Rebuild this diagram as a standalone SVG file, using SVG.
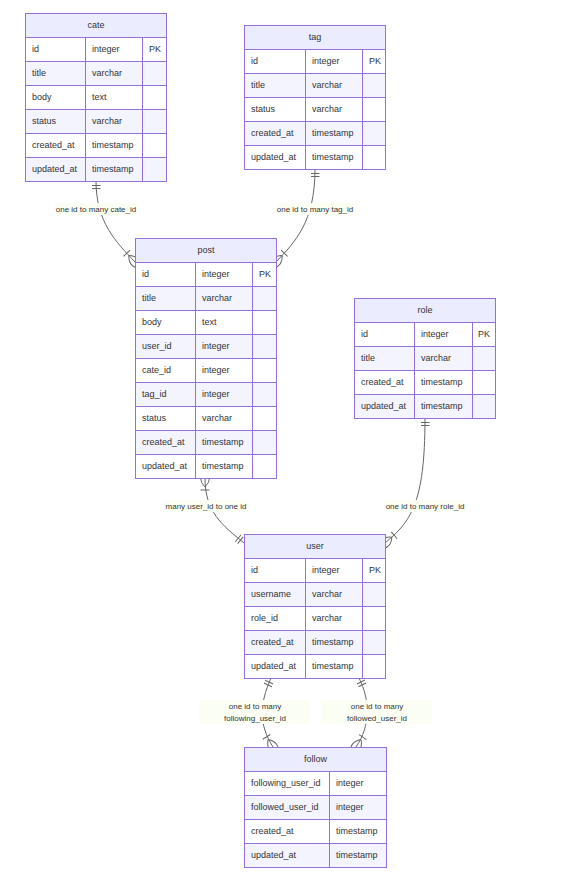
<svg xmlns="http://www.w3.org/2000/svg" width="581" height="882" viewBox="0 0 581 882">
<style>
.hdr{fill:#ececff;stroke:#9370db;stroke-width:1}
.odd{fill:#ffffff;stroke:#9370db;stroke-width:1}
.even{fill:#f4f4ff;stroke:#9370db;stroke-width:1}
.div{stroke:#9370db;stroke-width:1}
text{font-family:"Liberation Sans",Arial,sans-serif;fill:#333}
.t{font-size:9px}
.th{font-size:9px;text-anchor:middle}
.edge{fill:none;stroke:#666;stroke-width:1}
.lblbg{fill:#fbfff3}
.lbl{font-size:8px;text-anchor:middle;fill:#333}
.mk{fill:none;stroke:#666;stroke-width:2}
</style>
<defs>
<marker id="oneStart" viewBox="0 0 18 18" markerWidth="9" markerHeight="9" refX="0" refY="9" orient="auto" markerUnits="userSpaceOnUse"><path class="mk" d="M9,0 L9,18 M15,0 L15,18"/></marker>
<marker id="oneEnd" viewBox="0 0 18 18" markerWidth="9" markerHeight="9" refX="18" refY="9" orient="auto" markerUnits="userSpaceOnUse"><path class="mk" d="M3,0 L3,18 M9,0 L9,18"/></marker>
<marker id="manyStart" viewBox="0 0 45 36" markerWidth="22.5" markerHeight="18" refX="18" refY="18" orient="auto" markerUnits="userSpaceOnUse"><path class="mk" d="M0,18 Q18,0 36,18 Q18,36 0,18 M42,9 L42,27"/></marker>
<marker id="manyEnd" viewBox="0 0 45 36" markerWidth="22.5" markerHeight="18" refX="27" refY="18" orient="auto" markerUnits="userSpaceOnUse"><path class="mk" d="M3,9 L3,27 M9,18 Q27,0 45,18 Q27,36 9,18"/></marker>
</defs>
<rect width="581" height="882" fill="#ffffff"/>

<g id="connectors">
<path class="edge" d="M96,181 C96,222 116,242 135,262" marker-start="url(#oneStart)" marker-end="url(#manyEnd)"/>
<path class="edge" d="M315,169 C315,222 295,242 276,262" marker-start="url(#oneStart)" marker-end="url(#manyEnd)"/>
<path class="edge" d="M205,478 C205,512 222,525 244,543" marker-start="url(#manyStart)" marker-end="url(#oneEnd)"/>
<path class="edge" d="M425,418 C425,505 410,522 385,543" marker-start="url(#oneStart)" marker-end="url(#manyEnd)"/>
<path class="edge" d="M271,678 C259,705 259,725 273,747" marker-start="url(#oneStart)" marker-end="url(#manyEnd)"/>
<path class="edge" d="M359,678 C370,700 371,725 356,747" marker-start="url(#oneStart)" marker-end="url(#manyEnd)"/>
</g>

<g id="edge-labels">
<rect class="lblbg" x="55" y="203" width="82" height="12"/>
<text class="lbl" x="96" y="211.8">one id to many cate_id</text>
<rect class="lblbg" x="277" y="203" width="77" height="12"/>
<text class="lbl" x="315" y="211.8">one id to many tag_id</text>
<rect class="lblbg" x="165" y="500" width="82" height="12"/>
<text class="lbl" x="206" y="508.8">many user_id to one id</text>
<rect class="lblbg" x="385" y="500" width="80" height="12"/>
<text class="lbl" x="425" y="508.8">one id to many role_id</text>
<rect class="lblbg" x="199" y="700" width="111" height="24"/>
<text class="lbl" x="255" y="708.8">one id to many</text>
<text class="lbl" x="255" y="720.8">following_user_id</text>
<rect class="lblbg" x="321" y="700" width="111" height="24"/>
<text class="lbl" x="377" y="708.8">one id to many</text>
<text class="lbl" x="377" y="720.8">followed_user_id</text>
</g>

<g id="cate">
<rect class="hdr" x="25.5" y="13.5" width="141" height="24"/>
<text class="th" x="96" y="28.2">cate</text>
<rect class="odd" x="25.5" y="37.5" width="141" height="24"/>
<rect class="even" x="25.5" y="61.5" width="141" height="24"/>
<rect class="odd" x="25.5" y="85.5" width="141" height="24"/>
<rect class="even" x="25.5" y="109.5" width="141" height="24"/>
<rect class="odd" x="25.5" y="133.5" width="141" height="24"/>
<rect class="even" x="25.5" y="157.5" width="141" height="24"/>
<path class="div" d="M85.5,37.5 V181.5 M142.5,37.5 V181.5"/>
<text class="t" x="32" y="52.2">id</text><text class="t" x="92" y="52.2">integer</text><text class="t" x="149" y="52.2">PK</text>
<text class="t" x="32" y="76.2">title</text><text class="t" x="92" y="76.2">varchar</text>
<text class="t" x="32" y="100.2">body</text><text class="t" x="92" y="100.2">text</text>
<text class="t" x="32" y="124.2">status</text><text class="t" x="92" y="124.2">varchar</text>
<text class="t" x="32" y="148.2">created_at</text><text class="t" x="92" y="148.2">timestamp</text>
<text class="t" x="32" y="172.2">updated_at</text><text class="t" x="92" y="172.2">timestamp</text>
</g>

<g id="tag">
<rect class="hdr" x="244.5" y="25.5" width="141" height="24"/>
<text class="th" x="315" y="40.2">tag</text>
<rect class="odd" x="244.5" y="49.5" width="141" height="24"/>
<rect class="even" x="244.5" y="73.5" width="141" height="24"/>
<rect class="odd" x="244.5" y="97.5" width="141" height="24"/>
<rect class="even" x="244.5" y="121.5" width="141" height="24"/>
<rect class="odd" x="244.5" y="145.5" width="141" height="24"/>
<path class="div" d="M305.5,49.5 V169.5 M362.5,49.5 V169.5"/>
<text class="t" x="251" y="64.2">id</text><text class="t" x="312" y="64.2">integer</text><text class="t" x="369" y="64.2">PK</text>
<text class="t" x="251" y="88.2">title</text><text class="t" x="312" y="88.2">varchar</text>
<text class="t" x="251" y="112.2">status</text><text class="t" x="312" y="112.2">varchar</text>
<text class="t" x="251" y="136.2">created_at</text><text class="t" x="312" y="136.2">timestamp</text>
<text class="t" x="251" y="160.2">updated_at</text><text class="t" x="312" y="160.2">timestamp</text>
</g>

<g id="post">
<rect class="hdr" x="135.5" y="238.5" width="141" height="24"/>
<text class="th" x="206" y="253.2">post</text>
<rect class="odd" x="135.5" y="262.5" width="141" height="24"/>
<rect class="even" x="135.5" y="286.5" width="141" height="24"/>
<rect class="odd" x="135.5" y="310.5" width="141" height="24"/>
<rect class="even" x="135.5" y="334.5" width="141" height="24"/>
<rect class="odd" x="135.5" y="358.5" width="141" height="24"/>
<rect class="even" x="135.5" y="382.5" width="141" height="24"/>
<rect class="odd" x="135.5" y="406.5" width="141" height="24"/>
<rect class="even" x="135.5" y="430.5" width="141" height="24"/>
<rect class="odd" x="135.5" y="454.5" width="141" height="24"/>
<path class="div" d="M195.5,262.5 V478.5 M252.5,262.5 V478.5"/>
<text class="t" x="142" y="277.2">id</text><text class="t" x="202" y="277.2">integer</text><text class="t" x="259" y="277.2">PK</text>
<text class="t" x="142" y="301.2">title</text><text class="t" x="202" y="301.2">varchar</text>
<text class="t" x="142" y="325.2">body</text><text class="t" x="202" y="325.2">text</text>
<text class="t" x="142" y="349.2">user_id</text><text class="t" x="202" y="349.2">integer</text>
<text class="t" x="142" y="373.2">cate_id</text><text class="t" x="202" y="373.2">integer</text>
<text class="t" x="142" y="397.2">tag_id</text><text class="t" x="202" y="397.2">integer</text>
<text class="t" x="142" y="421.2">status</text><text class="t" x="202" y="421.2">varchar</text>
<text class="t" x="142" y="445.2">created_at</text><text class="t" x="202" y="445.2">timestamp</text>
<text class="t" x="142" y="469.2">updated_at</text><text class="t" x="202" y="469.2">timestamp</text>
</g>

<g id="role">
<rect class="hdr" x="354.5" y="298.5" width="141" height="24"/>
<text class="th" x="425" y="313.2">role</text>
<rect class="odd" x="354.5" y="322.5" width="141" height="24"/>
<rect class="even" x="354.5" y="346.5" width="141" height="24"/>
<rect class="odd" x="354.5" y="370.5" width="141" height="24"/>
<rect class="even" x="354.5" y="394.5" width="141" height="24"/>
<path class="div" d="M414.5,322.5 V418.5 M472.5,322.5 V418.5"/>
<text class="t" x="361" y="337.2">id</text><text class="t" x="421" y="337.2">integer</text><text class="t" x="478" y="337.2">PK</text>
<text class="t" x="361" y="361.2">title</text><text class="t" x="421" y="361.2">varchar</text>
<text class="t" x="361" y="385.2">created_at</text><text class="t" x="421" y="385.2">timestamp</text>
<text class="t" x="361" y="409.2">updated_at</text><text class="t" x="421" y="409.2">timestamp</text>
</g>

<g id="user">
<rect class="hdr" x="244.5" y="534.5" width="141" height="24"/>
<text class="th" x="315" y="549.2">user</text>
<rect class="odd" x="244.5" y="558.5" width="141" height="24"/>
<rect class="even" x="244.5" y="582.5" width="141" height="24"/>
<rect class="odd" x="244.5" y="606.5" width="141" height="24"/>
<rect class="even" x="244.5" y="630.5" width="141" height="24"/>
<rect class="odd" x="244.5" y="654.5" width="141" height="24"/>
<path class="div" d="M305.5,558.5 V678.5 M362.5,558.5 V678.5"/>
<text class="t" x="251" y="573.2">id</text><text class="t" x="312" y="573.2">integer</text><text class="t" x="369" y="573.2">PK</text>
<text class="t" x="251" y="597.2">username</text><text class="t" x="312" y="597.2">varchar</text>
<text class="t" x="251" y="621.2">role_id</text><text class="t" x="312" y="621.2">varchar</text>
<text class="t" x="251" y="645.2">created_at</text><text class="t" x="312" y="645.2">timestamp</text>
<text class="t" x="251" y="669.2">updated_at</text><text class="t" x="312" y="669.2">timestamp</text>
</g>

<g id="follow">
<rect class="hdr" x="244.5" y="747.5" width="142" height="24"/>
<text class="th" x="315.5" y="762.2">follow</text>
<rect class="odd" x="244.5" y="771.5" width="142" height="24"/>
<rect class="even" x="244.5" y="795.5" width="142" height="24"/>
<rect class="odd" x="244.5" y="819.5" width="142" height="24"/>
<rect class="even" x="244.5" y="843.5" width="142" height="24"/>
<path class="div" d="M329.5,771.5 V867.5"/>
<text class="t" x="251" y="786.2">following_user_id</text><text class="t" x="336" y="786.2">integer</text>
<text class="t" x="251" y="810.2">followed_user_id</text><text class="t" x="336" y="810.2">integer</text>
<text class="t" x="251" y="834.2">created_at</text><text class="t" x="336" y="834.2">timestamp</text>
<text class="t" x="251" y="858.2">updated_at</text><text class="t" x="336" y="858.2">timestamp</text>
</g>
</svg>
